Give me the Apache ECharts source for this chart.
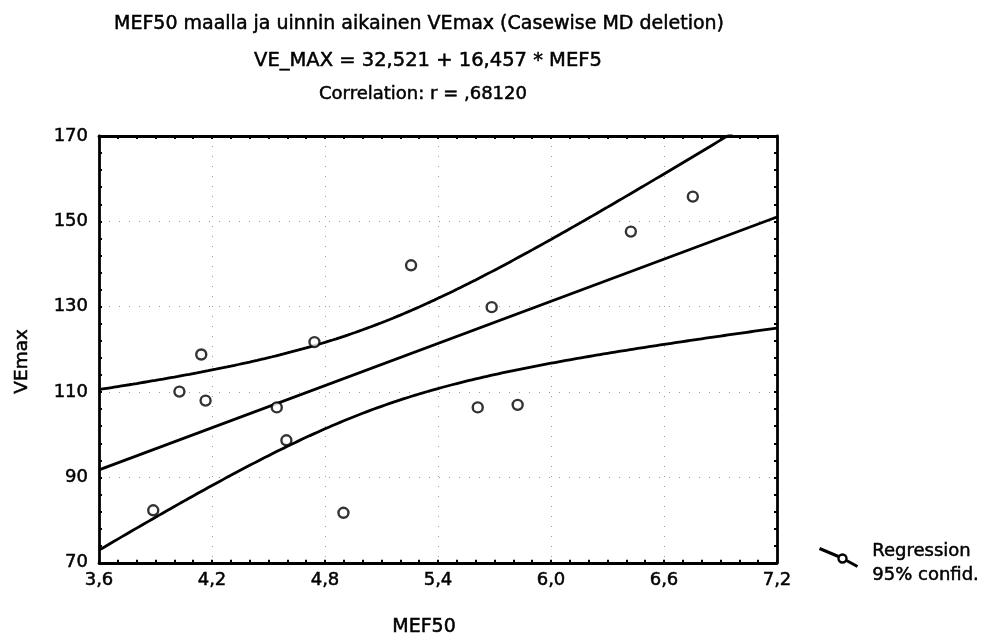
<!DOCTYPE html>
<html>
<head>
<meta charset="utf-8">
<script src="https://cdn.jsdelivr.net/npm/echarts@6/dist/echarts.min.js"></script>
<style>
  html, body { margin: 0; padding: 0; background: #fff; }
  #chart { width: 983px; height: 642px; }
</style>
</head>
<body>
<div id="chart"></div>
<script>
// MEF50 (x) against VEmax (y), one pair per subject
const mef50 = [3.888, 4.027, 4.143, 4.166, 4.544, 4.595, 4.744, 4.898, 5.257, 5.611, 5.685, 5.823, 6.424, 6.753];
const veMax = [82.3, 110.1, 118.8, 108.0, 106.4, 98.7, 121.7, 81.7, 139.7, 106.4, 129.9, 107.0, 147.6, 155.8];

// Fitted line as printed in the heading
const intercept = 32.521;
const slope = 16.457;

const xTicks = [3.6, 4.2, 4.8, 5.4, 6.0, 6.6, 7.2];
const yTicks = [70, 90, 110, 130, 150, 170];

const titleLines = [
  'MEF50 maalla ja uinnin aikainen VEmax (Casewise MD deletion)',
  'VE_MAX = 32,521 + 16,457 * MEF5',
  'Correlation: r = ,68120'
];

const FONT = '"DejaVu Sans", "Liberation Sans", Arial, sans-serif';
// slight outline in the text colour gives the heavier print look
const heavy = { textBorderColor: '#000', textBorderWidth: 0.5 };

// 95% confidence band for the mean response around the fitted line
const n = mef50.length;
const meanX = mef50.reduce((a, b) => a + b, 0) / n;
const sxx = mef50.reduce((a, x) => a + (x - meanX) * (x - meanX), 0);
const sse = mef50.reduce((a, x, i) => {
  const r = veMax[i] - (intercept + slope * x);
  return a + r * r;
}, 0);
const s = Math.sqrt(sse / (n - 2));
const tCrit = 2.1788; // t(0.975, df = 12)

const xMin = xTicks[0], xMax = xTicks[xTicks.length - 1];
const fitLine = [xMin, xMax].map(x => [x, intercept + slope * x]);
const upper = [], lower = [];
for (let k = 0; k <= 180; k++) {
  const x = xMin + (xMax - xMin) * k / 180;
  const yHat = intercept + slope * x;
  const h = tCrit * s * Math.sqrt(1 / n + (x - meanX) * (x - meanX) / sxx);
  upper.push([x, yHat + h]);
  lower.push([x, yHat - h]);
}

const commaFmt = v => (Math.round(v * 10) / 10).toFixed(1).replace('.', ',');

const frameLine = { show: true, onZero: false, lineStyle: { color: '#000', width: 2.8 } };
const tick = { show: true, inside: true, length: 3, lineStyle: { color: '#000', width: 2 } };
const gridDots = { show: true, lineStyle: { color: '#9a9a9a', width: 1, type: [1, 9] } };

const titleLayout = [
  { left: 414, top: 10, size: 19 },
  { left: 423, top: 46, size: 19.5 },
  { left: 418, top: 80, size: 18 }
];

const chart = echarts.init(document.getElementById('chart'));
chart.setOption({
  backgroundColor: '#fff',
  animation: false,
  textStyle: { fontFamily: FONT, color: '#000' },
  title: titleLines.map((t, i) => ({
    text: t,
    left: titleLayout[i].left,
    textAlign: 'center',
    top: titleLayout[i].top,
    textStyle: Object.assign({ fontFamily: FONT, fontSize: titleLayout[i].size, fontWeight: 'normal', color: '#000' }, heavy)
  })),
  grid: { left: 99, top: 136, width: 678, height: 431, show: false },
  xAxis: [
    {
      type: 'value', min: xMin, max: xMax, interval: 0.6, position: 'bottom',
      axisLine: frameLine, axisTick: tick,
      minorTick: { show: true, splitNumber: 6, length: 3, lineStyle: { color: '#000', width: 2 } },
      splitLine: gridDots,
      axisLabel: Object.assign({ fontFamily: FONT, fontSize: 18, color: '#000', margin: 9, formatter: commaFmt }, heavy),
      name: 'MEF50', nameLocation: 'middle', nameGap: 55,
      nameTextStyle: Object.assign({ fontFamily: FONT, fontSize: 19, color: '#000', padding: [0, 28, 0, 0] }, heavy)
    },
    {
      type: 'value', min: xMin, max: xMax, interval: 0.6, position: 'top',
      axisLine: frameLine, axisTick: tick,
      minorTick: { show: true, splitNumber: 6, length: 3, lineStyle: { color: '#000', width: 2 } },
      splitLine: { show: false }, axisLabel: { show: false }
    }
  ],
  yAxis: [
    {
      type: 'value', min: yTicks[0], max: yTicks[yTicks.length - 1], interval: 20, position: 'left',
      axisLine: frameLine, axisTick: tick,
      minorTick: { show: true, splitNumber: 5, length: 3, lineStyle: { color: '#000', width: 2 } },
      splitLine: gridDots,
      axisLabel: Object.assign({ fontFamily: FONT, fontSize: 18, color: '#000', margin: 11 }, heavy),
      name: 'VEmax', nameLocation: 'middle', nameGap: 67,
      nameTextStyle: Object.assign({ fontFamily: FONT, fontSize: 18.5, color: '#000', padding: [0, 24, 0, 0] }, heavy)
    },
    {
      type: 'value', min: yTicks[0], max: yTicks[yTicks.length - 1], interval: 20, position: 'right',
      axisLine: frameLine, axisTick: tick,
      minorTick: { show: true, splitNumber: 5, length: 3, lineStyle: { color: '#000', width: 2 } },
      splitLine: { show: false }, axisLabel: { show: false }
    }
  ],
  series: [
    {
      name: '95% confid. upper', type: 'line', data: upper, symbol: 'none', clip: true,
      lineStyle: { color: '#000', width: 2.8 }, z: 3
    },
    {
      name: '95% confid. lower', type: 'line', data: lower, symbol: 'none', clip: true,
      lineStyle: { color: '#000', width: 2.8 }, z: 3
    },
    {
      name: 'Regression', type: 'line', data: fitLine, symbol: 'none', clip: true,
      lineStyle: { color: '#000', width: 2.8 }, z: 3
    },
    {
      name: 'VEmax', type: 'scatter', data: mef50.map((x, i) => [x, veMax[i]]),
      symbol: 'circle', symbolSize: 10,
      itemStyle: { color: '#fff', borderColor: '#000', borderWidth: 2.4 }, z: 5
    }
  ],
  graphic: [
    {
      type: 'group', left: 817, top: 546,
      children: [
        { type: 'polyline', shape: { points: [[0, 0], [19, 8]] }, style: { stroke: '#000', lineWidth: 3, fill: null } },
        { type: 'polyline', shape: { points: [[27, 12], [38, 18]] }, style: { stroke: '#000', lineWidth: 3, fill: null } },
        { type: 'circle', shape: { cx: 23, cy: 10, r: 4 }, style: { stroke: '#000', lineWidth: 2.4, fill: '#fff' } }
      ]
    },
    {
      type: 'text', left: 872, top: 542,
      style: { text: 'Regression', font: '18px ' + FONT, fill: '#000', stroke: '#000', lineWidth: 0.5 }
    },
    {
      type: 'text', left: 872, top: 566,
      style: { text: '95% confid.', font: '18px ' + FONT, fill: '#000', stroke: '#000', lineWidth: 0.5 }
    }
  ]
});
</script>
</body>
</html>
